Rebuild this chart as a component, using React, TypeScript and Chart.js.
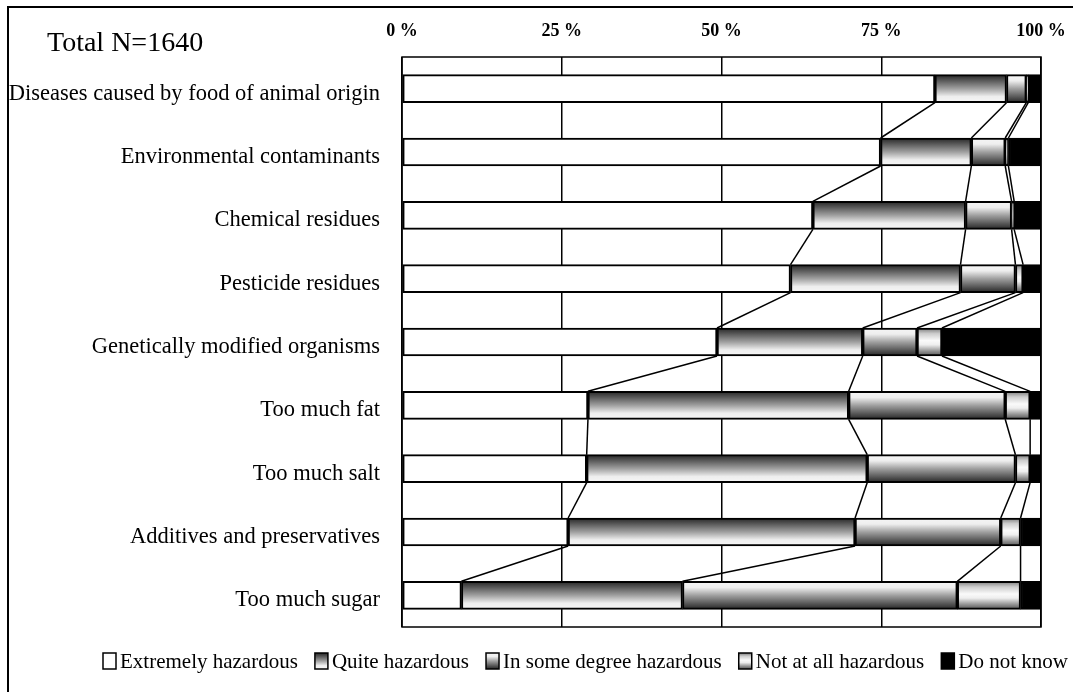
import React, { useEffect, useRef } from "react";
import { Chart, registerables } from "chart.js";
Chart.register(...registerables);

const categories = [
  "Diseases caused by food of animal origin",
  "Environmental contaminants",
  "Chemical residues",
  "Pesticide residues",
  "Genetically modified organisms",
  "Too much fat",
  "Too much salt",
  "Additives and preservatives",
  "Too much sugar",
];
const seriesNames = [
  "Extremely hazardous",
  "Quite hazardous",
  "In some degree hazardous",
  "Not at all hazardous",
  "Do not know",
];
const extremely = [83.4, 74.9, 64.3, 60.8, 49.3, 29.1, 28.9, 26.0, 9.3];
const quite = [11.2, 14.2, 23.9, 26.6, 22.8, 40.8, 43.9, 44.9, 34.6];
const someDegree = [3.1, 5.3, 7.2, 8.6, 8.5, 24.5, 23.2, 22.8, 43.0];
const notAtAll = [0.3, 0.5, 0.4, 1.2, 3.9, 3.9, 2.3, 3.1, 9.9];
const dontKnow = [2.0, 5.1, 4.2, 2.8, 15.5, 1.7, 1.7, 3.2, 3.2];
const tickValues = [0, 25, 50, 75, 100];
const totalLabel = "Total N=1640";

const seriesData = [extremely, quite, someDegree, notAtAll, dontKnow];
const seriesKinds = ["white", "down", "up", "tube", "black"];

const FONT = '"Liberation Serif", "Times New Roman", serif';
const BAR_T = 28;

function makeFill(c: CanvasRenderingContext2D, kind: string, top: number, h: number): any {
  if (kind === "white") return "#ffffff";
  if (kind === "black") return "#000000";
  if (!isFinite(top) || !isFinite(h)) return "#bbbbbb";
  const g = c.createLinearGradient(0, top, 0, top + h);
  if (kind === "down") {
    g.addColorStop(0, "#262626");
    g.addColorStop(0.15, "#4a4a4a");
    g.addColorStop(0.5, "#a0a0a0");
    g.addColorStop(0.78, "#eeeeee");
    g.addColorStop(1, "#f6f6f6");
  } else if (kind === "up") {
    g.addColorStop(0, "#f6f6f6");
    g.addColorStop(0.22, "#eeeeee");
    g.addColorStop(0.5, "#a0a0a0");
    g.addColorStop(0.85, "#4a4a4a");
    g.addColorStop(1, "#262626");
  } else {
    g.addColorStop(0, "#7a7a7a");
    g.addColorStop(0.2, "#cccccc");
    g.addColorStop(0.45, "#fafafa");
    g.addColorStop(0.6, "#eeeeee");
    g.addColorStop(0.85, "#8a8a8a");
    g.addColorStop(1, "#555555");
  }
  return g;
}

const connectorPlugin = {
  id: "connectors",
  afterDatasetsDraw(chart: any) {
    const c = chart.ctx;
    const xs = chart.scales.x;
    const metas = [0, 1, 2, 3].map((i) => chart.getDatasetMeta(i));
    c.save();
    c.strokeStyle = "#000";
    c.lineWidth = 1.5;
    for (let k = 0; k < 4; k++) {
      for (let j = 0; j < categories.length - 1; j++) {
        let s1 = 0, s2 = 0;
        for (let m = 0; m <= k; m++) { s1 += seriesData[m][j]; s2 += seriesData[m][j + 1]; }
        const e1 = metas[k].data[j];
        const e2 = metas[k].data[j + 1];
        const y1 = e1.y + e1.height / 2;
        const y2 = e2.y - e2.height / 2;
        c.beginPath();
        c.moveTo(xs.getPixelForValue(s1), y1);
        c.lineTo(xs.getPixelForValue(s2), y2);
        c.stroke();
      }
    }
    const a = chart.chartArea;
    c.lineWidth = 1.5;
    c.strokeRect(a.left, a.top, a.right - a.left, a.bottom - a.top);
    c.restore();
  },
};

const extrasPlugin = {
  id: "extras",
  afterDraw(chart: any) {
    const c = chart.ctx;
    c.save();
    c.fillStyle = "#000";
    c.font = `28px ${FONT}`;
    c.textBaseline = "middle";
    c.textAlign = "left";
    c.fillText(totalLabel, 38, 36);

    c.font = `21px ${FONT}`;
    const widths = seriesNames.map((s) => c.measureText(s).width);
    const iconW = 13, iconH = 16, iconGap = 4;
    const startX = 94, endX = 1059, cy = 653;
    const total = widths.reduce((p, v) => p + v, 0) + seriesNames.length * (iconW + iconGap);
    const gap = (endX - startX - total) / (seriesNames.length - 1);
    let x = startX;
    seriesNames.forEach((name, i) => {
      const top = cy - iconH / 2;
      c.fillStyle = makeFill(c, seriesKinds[i], top, iconH);
      c.fillRect(x, top, iconW, iconH);
      c.strokeStyle = "#000";
      c.lineWidth = 1.5;
      c.strokeRect(x, top, iconW, iconH);
      c.fillStyle = "#000";
      c.fillText(name, x + iconW + iconGap, cy + 1);
      x += iconW + iconGap + widths[i] + gap;
    });
    c.restore();
  },
};

export default function App() {
  const ref = useRef<HTMLCanvasElement>(null);
  useEffect(() => {
    const canvas = ref.current!;
    const chart = new Chart(canvas, {
      type: "bar",
      data: {
        labels: categories,
        datasets: seriesNames.map((name, i) => ({
          label: name,
          data: seriesData[i],
          backgroundColor: (ctx: any) => {
            const ch = ctx.chart;
            const ys = ch.scales && ch.scales.y;
            if (!ys || ctx.dataIndex === undefined) return "#fff";
            const cy = ys.getPixelForValue(ctx.dataIndex);
            return makeFill(ch.ctx, seriesKinds[i], cy - BAR_T / 2, BAR_T);
          },
          borderColor: "#000",
          borderWidth: 2,
          borderSkipped: false,
          barThickness: BAR_T,
        })),
      },
      options: {
        indexAxis: "y",
        animation: false,
        responsive: false,
        maintainAspectRatio: false,
        layout: { padding: { left: 0, right: 0, top: 0, bottom: 65 } },
        plugins: {
          legend: { display: false },
          tooltip: { enabled: false },
          title: { display: false },
        },
        scales: {
          x: {
            type: "linear",
            position: "top",
            stacked: true,
            min: 0,
            max: 100,
            afterBuildTicks: (s: any) => {
              s.ticks = tickValues.map((v) => ({ value: v }));
            },
            ticks: {
              callback: (v: any) => `${v} %`,
              font: { family: FONT, size: 18, weight: "bold" },
              color: "#000",
              padding: 15,
              maxRotation: 0,
              autoSkip: false,
            },
            grid: { color: "#000", lineWidth: 1.5, drawTicks: false },
            border: { display: false },
            afterFit: (s: any) => {
              s.height = 49;
              s.paddingRight = 32;
              s.paddingLeft = 0;
            },
          },
          y: {
            stacked: true,
            ticks: { font: { family: FONT, size: 22.5 }, color: "#000", padding: 14, labelOffset: 5 },
            grid: { display: false },
            border: { display: false },
            afterFit: (s: any) => {
              s.width = 393;
              s.paddingTop = 0;
              s.paddingBottom = 0;
            },
          },
        },
      },
      plugins: [connectorPlugin, extrasPlugin],
    } as any);
    return () => chart.destroy();
  }, []);
  return (
    <div
      style={{
        position: "absolute",
        left: 7,
        top: 6,
        borderTop: "2px solid #000",
        borderLeft: "2px solid #000",
      }}
    >
      <canvas ref={ref} width={1064} height={684} style={{ display: "block" }} />
    </div>
  );
}
